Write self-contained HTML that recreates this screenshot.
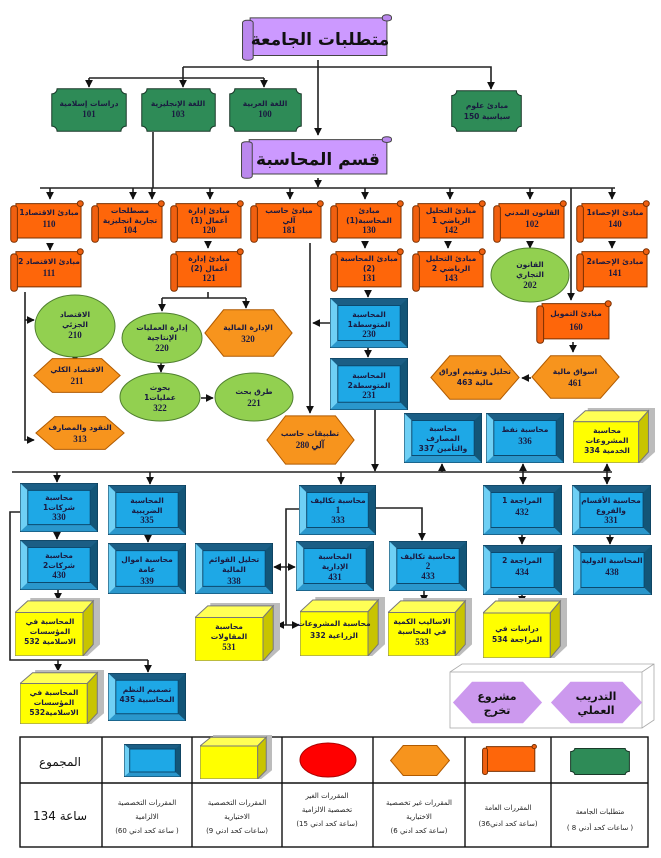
<!DOCTYPE html>
<html><head><meta charset="utf-8"><style>
body{margin:0;background:#fff}
svg{display:block}
.t{font-family:"DejaVu Sans","Liberation Sans",sans-serif;font-weight:bold;font-size:7.5px;text-anchor:middle;fill:#1a1a40}
.n{font-family:"Liberation Serif",serif;font-size:9px}
.big{font-family:"DejaVu Sans",sans-serif;font-weight:bold;font-size:17px;text-anchor:middle;fill:#111}
.lg{font-family:"DejaVu Sans",sans-serif;font-size:7px;text-anchor:middle;fill:#222}
.ln{stroke:#222;stroke-width:1.6;fill:none}
</style></head><body>
<svg width="661" height="858" viewBox="0 0 661 858" xmlns="http://www.w3.org/2000/svg">
<defs>
<marker id="a" viewBox="0 0 10 10" refX="9" refY="5" markerWidth="5" markerHeight="5" orient="auto-start-reverse"><path d="M0 0L10 5L0 10z" fill="#111"/></marker>
<symbol id="so" viewBox="0 0 100 60" preserveAspectRatio="none"><rect x="8" y="5" width="88" height="48" fill="#fe660a" stroke="#7a3000" stroke-width="1" vector-effect="non-scaling-stroke"/><rect x="1" y="8" width="9" height="51" rx="4" fill="#f06010" stroke="#7a3000" vector-effect="non-scaling-stroke"/><rect x="91" y="1" width="8" height="8" rx="4" fill="#f06010" stroke="#7a3000" vector-effect="non-scaling-stroke"/></symbol>
<symbol id="sp" viewBox="0 0 100 60" preserveAspectRatio="none"><rect x="6" y="5" width="90" height="48" fill="#cc99ff" stroke="#444" vector-effect="non-scaling-stroke"/><rect x="1" y="8" width="7" height="51" rx="3" fill="#bb88ee" stroke="#444" vector-effect="non-scaling-stroke"/><rect x="93" y="1" width="6" height="8" rx="3" fill="#bb88ee" stroke="#444" vector-effect="non-scaling-stroke"/></symbol>
<symbol id="bb" viewBox="0 0 100 60" preserveAspectRatio="none"><rect x="0" y="0" width="100" height="60" fill="#156d99"/><polygon points="0,0 100,0 90,9 10,9" fill="#1b5e85"/><polygon points="0,0 10,9 10,51 0,60" fill="#6fd0f5"/><polygon points="100,0 100,60 90,51 90,9" fill="#135577"/><polygon points="0,60 10,51 90,51 100,60" fill="#2a97cc"/><rect x="10" y="9" width="80" height="42" fill="#1ea8e6" stroke="#0b4a70" vector-effect="non-scaling-stroke"/><rect x="0" y="0" width="100" height="60" fill="none" stroke="#0b3550" vector-effect="non-scaling-stroke"/></symbol>
<symbol id="yc" viewBox="0 0 100 60" preserveAspectRatio="none"><polygon points="18,0 100,0 100,48 85,60 18,60" fill="#bcbcbc"/><polygon points="0,15 15,3 92,3 80,15" fill="#ffff55" stroke="#777" vector-effect="non-scaling-stroke"/><polygon points="80,15 92,3 92,48 80,60" fill="#c8c400" stroke="#777" vector-effect="non-scaling-stroke"/><rect x="0" y="15" width="80" height="45" fill="#ffff00" stroke="#777" vector-effect="non-scaling-stroke"/></symbol>
<symbol id="hx" viewBox="0 0 100 60" preserveAspectRatio="none"><polygon points="1,30 22,1 78,1 99,30 78,59 22,59" fill="#f7941d" stroke="#b05a00" vector-effect="non-scaling-stroke"/></symbol>
<symbol id="hp" viewBox="0 0 100 60" preserveAspectRatio="none"><polygon points="1,30 22,1 78,1 99,30 78,59 22,59" fill="#cc99ee"/></symbol>
<symbol id="gb" viewBox="0 0 100 60" preserveAspectRatio="none"><path d="M8 1H92A7 7 0 0 0 99 8V52A7 7 0 0 0 92 59H8A7 7 0 0 0 1 52V8A7 7 0 0 0 8 1Z" fill="#2e8b57" stroke="#1a3a2a" vector-effect="non-scaling-stroke"/></symbol>
</defs>

<!-- connectors -->
<g class="ln">
<path d="M318 60V135" marker-end="url(#a)"/>
<path d="M183 67H491V89" marker-end="url(#a)"/>
<path d="M183 67V78"/>
<path d="M89 78H264"/>
<path d="M89 78V87" marker-end="url(#a)"/><path d="M183 78V87" marker-end="url(#a)"/><path d="M264 78V87" marker-end="url(#a)"/>
<path d="M153 132V188"/>
<path d="M318 178V187" marker-end="url(#a)"/>
<path d="M40 188H615"/>
<path d="M50 188V199" marker-end="url(#a)"/><path d="M133 188V199" marker-end="url(#a)"/><path d="M152 188V199" marker-end="url(#a)"/><path d="M210 188V199" marker-end="url(#a)"/><path d="M290 188V199" marker-end="url(#a)"/><path d="M365 188V199" marker-end="url(#a)"/><path d="M450 188V199" marker-end="url(#a)"/><path d="M530 188V199" marker-end="url(#a)"/><path d="M612 188V199" marker-end="url(#a)"/>
<path d="M571 188V300" marker-end="url(#a)"/>
<path d="M50 243V250" marker-end="url(#a)"/><path d="M208 243V248" marker-end="url(#a)"/><path d="M365 243V248" marker-end="url(#a)"/><path d="M448 243V248" marker-end="url(#a)"/><path d="M530 243V248" marker-end="url(#a)"/><path d="M612 243V248" marker-end="url(#a)"/>
<path d="M25 292V440H34" marker-end="url(#a)"/><path d="M25 320H34" marker-end="url(#a)"/>
<path d="M75 357V362" marker-end="url(#a)"/>
<path d="M208 292V298"/><path d="M162 298H246"/><path d="M162 298V311" marker-end="url(#a)"/><path d="M246 298V308" marker-end="url(#a)"/>
<path d="M161 363V372" marker-end="url(#a)"/><path d="M201 398H213" marker-end="url(#a)"/>
<path d="M310 243V413" marker-end="url(#a)"/><path d="M330 323H313" marker-end="url(#a)"/>
<path d="M368 292V297" marker-end="url(#a)"/><path d="M368 348V357" marker-end="url(#a)"/>
<path d="M375 410V471" marker-end="url(#a)"/>
<path d="M573 342V352" marker-end="url(#a)"/><path d="M531 378H522" marker-end="url(#a)"/>
<path d="M12 472H612"/>
<path d="M57 472V482" marker-end="url(#a)"/><path d="M150 472V484" marker-end="url(#a)"/><path d="M341 472V484" marker-end="url(#a)"/>
<path d="M442 472V464" marker-end="url(#a)"/>
<path d="M523 464V484" marker-end="url(#a)" marker-start="url(#a)"/>
<path d="M607 464V484" marker-end="url(#a)" marker-start="url(#a)"/>
<path d="M376 508H422V540" marker-end="url(#a)"/>
<path d="M299 509H286V625"/>
<path d="M274 567H295" marker-end="url(#a)" marker-start="url(#a)"/>
<path d="M277 625H299" marker-end="url(#a)" marker-start="url(#a)"/>
<path d="M57 532V539" marker-end="url(#a)"/><path d="M58 590V600" marker-end="url(#a)"/>
<path d="M20 512H10V660H148"/><path d="M58 660V671" marker-end="url(#a)"/><path d="M148 660V672" marker-end="url(#a)"/>
<path d="M148 535V542" marker-end="url(#a)"/>
<path d="M522 535V544" marker-end="url(#a)"/><path d="M522 595V603" marker-end="url(#a)"/>
<path d="M610 535V544" marker-end="url(#a)"/><path d="M424 591V602" marker-end="url(#a)"/>
</g>

<!-- titles -->
<use href="#sp" x="241" y="14" width="152" height="47"/>
<text class="big" x="320" y="45">متطلبات الجامعة</text>
<use href="#sp" x="240" y="136" width="153" height="43"/>
<text class="big" x="318" y="165">قسم المحاسبة</text>

<!-- green -->
<use href="#gb" x="51" y="88" width="76" height="44"/><text class="t" x="89" y="106">دراسات إسلامية<tspan class="n" x="89" dy="11">101</tspan></text>
<use href="#gb" x="141" y="88" width="75" height="44"/><text class="t" x="178" y="106">اللغة الإنجليزية<tspan class="n" x="178" dy="11">103</tspan></text>
<use href="#gb" x="229" y="88" width="73" height="44"/><text class="t" x="265" y="106">اللغة العربية<tspan class="n" x="265" dy="11">100</tspan></text>
<use href="#gb" x="451" y="90" width="71" height="42"/><text class="t" x="487" y="108">مبادئ علوم<tspan x="487" dy="11">سياسية 150</tspan></text>

<!-- orange scrolls -->
<use href="#so" x="10" y="200" width="74" height="43"/><text class="t" x="49" y="215">مبادئ الاقتصاد1<tspan class="n" x="49" dy="12">110</tspan></text>
<use href="#so" x="91" y="200" width="74" height="43"/><text class="t" x="130" y="213">مصطلحات<tspan x="130" dy="10">تجارية انجليزية</tspan><tspan class="n" x="130" dy="10">104</tspan></text>
<use href="#so" x="170" y="200" width="74" height="43"/><text class="t" x="209" y="213">مبادئ إدارة<tspan x="209" dy="10">أعمال (1)</tspan><tspan class="n" x="209" dy="10">120</tspan></text>
<use href="#so" x="250" y="200" width="74" height="43"/><text class="t" x="289" y="213">مبادئ حاسب<tspan x="289" dy="10">آلي</tspan><tspan class="n" x="289" dy="10">181</tspan></text>
<use href="#so" x="330" y="200" width="74" height="43"/><text class="t" x="369" y="213">مبادئ<tspan x="369" dy="10">المحاسبة(1)</tspan><tspan class="n" x="369" dy="10">130</tspan></text>
<use href="#so" x="412" y="200" width="74" height="43"/><text class="t" x="451" y="213">مبادئ التحليل<tspan x="451" dy="10">الرياضي 1</tspan><tspan class="n" x="451" dy="10">142</tspan></text>
<use href="#so" x="493" y="200" width="74" height="43"/><text class="t" x="532" y="215">القانون المدني<tspan class="n" x="532" dy="12">102</tspan></text>
<use href="#so" x="576" y="200" width="74" height="43"/><text class="t" x="615" y="215">مبادئ الإحصاء1<tspan class="n" x="615" dy="12">140</tspan></text>
<use href="#so" x="10" y="248" width="74" height="44"/><text class="t" x="49" y="264">مبادئ الاقتصاد 2<tspan class="n" x="49" dy="12">111</tspan></text>
<use href="#so" x="170" y="248" width="74" height="44"/><text class="t" x="209" y="261">مبادئ إدارة<tspan x="209" dy="10">أعمال (2)</tspan><tspan class="n" x="209" dy="10">121</tspan></text>
<use href="#so" x="330" y="248" width="74" height="44"/><text class="t" x="369" y="261">مبادئ المحاسبة<tspan x="369" dy="10">(2)</tspan><tspan class="n" x="369" dy="10">131</tspan></text>
<use href="#so" x="412" y="248" width="74" height="44"/><text class="t" x="451" y="261">مبادئ التحليل<tspan x="451" dy="10">الرياضي 2</tspan><tspan class="n" x="451" dy="10">143</tspan></text>
<use href="#so" x="576" y="248" width="74" height="44"/><text class="t" x="615" y="264">مبادئ الإحصاء2<tspan class="n" x="615" dy="12">141</tspan></text>
<use href="#so" x="536" y="300" width="76" height="44"/><text class="t" x="576" y="316">مبادئ التمويل<tspan class="n" x="576" dy="14">160</tspan></text>

<!-- ellipses -->
<g fill="#92d050" stroke="#4f7f2f">
<ellipse cx="530" cy="275" rx="39" ry="27"/>
<ellipse cx="75" cy="326" rx="40" ry="31"/>
<ellipse cx="162" cy="338" rx="40" ry="25"/>
<ellipse cx="160" cy="397" rx="40" ry="24"/>
<ellipse cx="254" cy="397" rx="39" ry="24"/>
</g>
<text class="t" x="530" y="267">القانون<tspan x="530" dy="10">التجاري</tspan><tspan class="n" x="530" dy="11">202</tspan></text>
<text class="t" x="75" y="317">الاقتصاد<tspan x="75" dy="10">الجزئي</tspan><tspan class="n" x="75" dy="11">210</tspan></text>
<text class="t" x="162" y="330">إدارة العمليات<tspan x="162" dy="10">الإنتاجية</tspan><tspan class="n" x="162" dy="11">220</tspan></text>
<text class="t" x="160" y="390">بحوث<tspan x="160" dy="10">عمليات1</tspan><tspan class="n" x="160" dy="11">322</tspan></text>
<text class="t" x="254" y="394">طرق بحث<tspan class="n" x="254" dy="12">221</tspan></text>

<!-- hexagons -->
<use href="#hx" x="33" y="358" width="88" height="35"/><text class="t" x="77" y="372">الاقتصاد الكلي<tspan class="n" x="77" dy="12">211</tspan></text>
<use href="#hx" x="35" y="416" width="90" height="34"/><text class="t" x="80" y="430">النقود والمصارف<tspan class="n" x="80" dy="12">313</tspan></text>
<use href="#hx" x="204" y="309" width="89" height="48"/><text class="t" x="248" y="330">الإدارة المالية<tspan class="n" x="248" dy="12">320</tspan></text>
<use href="#hx" x="266" y="415" width="89" height="50"/><text class="t" x="310" y="436">تطبيقات حاسب<tspan class="n" x="310" dy="12">آلي 280</tspan></text>
<use href="#hx" x="531" y="355" width="89" height="44"/><text class="t" x="575" y="374">اسواق مالية<tspan class="n" x="575" dy="12">461</tspan></text>
<use href="#hx" x="430" y="355" width="90" height="45"/><text class="t" x="475" y="374">تحليل وتقييم اوراق<tspan x="475" dy="11">مالية 463</tspan></text>

<!-- blue -->
<use href="#bb" x="330" y="298" width="78" height="50"/><text class="t" x="369" y="317">المحاسبة<tspan x="369" dy="10">المتوسطة1</tspan><tspan class="n" x="369" dy="10">230</tspan></text>
<use href="#bb" x="330" y="358" width="78" height="52"/><text class="t" x="369" y="378">المحاسبة<tspan x="369" dy="10">المتوسطة2</tspan><tspan class="n" x="369" dy="10">231</tspan></text>
<use href="#bb" x="404" y="413" width="78" height="50"/><text class="t" x="443" y="431">محاسبة<tspan x="443" dy="10">المصارف</tspan><tspan x="443" dy="10">والتأمين 337</tspan></text>
<use href="#bb" x="486" y="413" width="78" height="50"/><text class="t" x="525" y="432">محاسبة نفط<tspan class="n" x="525" dy="12">336</tspan></text>
<use href="#bb" x="20" y="483" width="78" height="49"/><text class="t" x="59" y="500">محاسبة<tspan x="59" dy="10">شركات1</tspan><tspan class="n" x="59" dy="10">330</tspan></text>
<use href="#bb" x="108" y="485" width="78" height="50"/><text class="t" x="147" y="503">المحاسبة<tspan x="147" dy="10">الضريبية</tspan><tspan class="n" x="147" dy="10">335</tspan></text>
<use href="#bb" x="299" y="485" width="77" height="50"/><text class="t" x="338" y="503">محاسبة تكاليف<tspan class="n" x="338" dy="10">1</tspan><tspan class="n" x="338" dy="10">333</tspan></text>
<use href="#bb" x="483" y="485" width="79" height="50"/><text class="t" x="522" y="503">المراجعة 1<tspan class="n" x="522" dy="12">432</tspan></text>
<use href="#bb" x="572" y="485" width="79" height="50"/><text class="t" x="611" y="503">محاسبة الأقسام<tspan x="611" dy="10">والفروع</tspan><tspan class="n" x="611" dy="10">331</tspan></text>
<use href="#bb" x="20" y="540" width="78" height="50"/><text class="t" x="59" y="558">محاسبة<tspan x="59" dy="10">شركات2</tspan><tspan class="n" x="59" dy="10">430</tspan></text>
<use href="#bb" x="108" y="543" width="78" height="51"/><text class="t" x="147" y="562">محاسبة اموال<tspan x="147" dy="10">عامة</tspan><tspan class="n" x="147" dy="12">339</tspan></text>
<use href="#bb" x="195" y="543" width="78" height="51"/><text class="t" x="234" y="562">تحليل القوائم<tspan x="234" dy="10">المالية</tspan><tspan class="n" x="234" dy="12">338</tspan></text>
<use href="#bb" x="296" y="541" width="78" height="50"/><text class="t" x="335" y="559">المحاسبة<tspan x="335" dy="10">الإدارية</tspan><tspan class="n" x="335" dy="11">431</tspan></text>
<use href="#bb" x="389" y="541" width="78" height="50"/><text class="t" x="428" y="559">محاسبة تكاليف<tspan class="n" x="428" dy="10">2</tspan><tspan class="n" x="428" dy="10">433</tspan></text>
<use href="#bb" x="483" y="545" width="79" height="50"/><text class="t" x="522" y="563">المراجعة 2<tspan class="n" x="522" dy="12">434</tspan></text>
<use href="#bb" x="573" y="545" width="79" height="50"/><text class="t" x="612" y="563">المحاسبة الدولية<tspan class="n" x="612" dy="12">438</tspan></text>
<use href="#bb" x="108" y="673" width="78" height="48"/><text class="t" x="147" y="692">تصميم النظم<tspan x="147" dy="10">المحاسبية 435</tspan></text>

<!-- yellow -->
<use href="#yc" x="573" y="408" width="82" height="55"/><text class="t" x="607" y="433">محاسبة<tspan x="607" dy="10">المشروعات</tspan><tspan x="607" dy="10">الخدمية 334</tspan></text>
<use href="#yc" x="15" y="598" width="85" height="58"/><text class="t" x="50" y="624">المحاسبة في<tspan x="50" dy="10">المؤسسات</tspan><tspan x="50" dy="10">الاسلامية 532</tspan></text>
<use href="#yc" x="195" y="603" width="85" height="58"/><text class="t" x="229" y="629">محاسبة<tspan x="229" dy="10">المقاولات</tspan><tspan class="n" x="229" dy="11">531</tspan></text>
<use href="#yc" x="300" y="597" width="85" height="59"/><text class="t" x="334" y="626">محاسبة المشروعات<tspan x="334" dy="12">الزراعية 332</tspan></text>
<use href="#yc" x="388" y="598" width="84" height="58"/><text class="t" x="422" y="624">الاساليب الكمية<tspan x="422" dy="10">في المحاسبة</tspan><tspan class="n" x="422" dy="11">533</tspan></text>
<use href="#yc" x="483" y="598" width="84" height="60"/><text class="t" x="517" y="631">دراسات في<tspan x="517" dy="11">المراجعة 534</tspan></text>
<use href="#yc" x="20" y="670" width="84" height="54"/><text class="t" x="54" y="695">المحاسبة في<tspan x="54" dy="10">المؤسسات</tspan><tspan x="54" dy="10">الاسلامية532</tspan></text>

<!-- training -->
<g fill="none" stroke="#aaa" stroke-width="0.8">
<rect x="450" y="672" width="192" height="56"/><path d="M450 672L462 664H654V720L642 728M642 672L654 664"/>
</g>
<use href="#hp" x="452" y="681" width="91" height="43"/>
<use href="#hp" x="550" y="681" width="93" height="43"/>
<text class="big" style="font-size:11px" x="497" y="700">مشروع<tspan x="497" dy="14">تخرج</tspan></text>
<text class="big" style="font-size:11px" x="596" y="700">التدريب<tspan x="596" dy="14">العملي</tspan></text>

<!-- legend -->
<g stroke="#111" stroke-width="1.4" fill="none">
<rect x="20" y="737" width="628" height="110"/>
<path d="M20 783H648M102 737V847M192 737V847M282 737V847M373 737V847M465 737V847M551 737V847"/>
</g>
<text class="big" style="font-size:12px;font-weight:normal" x="60" y="766">المجموع</text>
<use href="#bb" x="124" y="744" width="57" height="33"/>
<use href="#yc" x="200" y="735" width="72" height="44"/>
<ellipse cx="328" cy="760" rx="28" ry="17" fill="#ff0000" stroke="#a00"/>
<use href="#hx" x="390" y="745" width="60" height="31"/>
<use href="#so" x="482" y="744" width="55" height="31"/>
<use href="#gb" x="570" y="748" width="60" height="27"/>
<text class="big" style="font-size:12px;font-weight:normal" x="60" y="820">134 ساعة</text>
<text class="lg" x="147" y="805">المقررات التخصصية<tspan x="147" dy="14">الالزامية</tspan><tspan x="147" dy="14">(60 ساعة كحد ادني )</tspan></text>
<text class="lg" x="237" y="805">المقررات التخصصية<tspan x="237" dy="14">الاختيارية</tspan><tspan x="237" dy="14">(9 ساعات كحد ادني)</tspan></text>
<text class="lg" x="327" y="798">المقررات الغير<tspan x="327" dy="14">تخصصية الالزامية</tspan><tspan x="327" dy="14">(15 ساعة كحد ادني)</tspan></text>
<text class="lg" x="419" y="805">المقررات غير تخصصية<tspan x="419" dy="14">الاختيارية</tspan><tspan x="419" dy="14">(6 ساعة كحد ادني)</tspan></text>
<text class="lg" x="508" y="810">المقررات العامة<tspan x="508" dy="16">(36ساعة كحد ادني)</tspan></text>
<text class="lg" x="600" y="814">متطلبات الجامعة<tspan x="600" dy="16">( 8 ساعات كحد أدني )</tspan></text>
</svg>
</body></html>
